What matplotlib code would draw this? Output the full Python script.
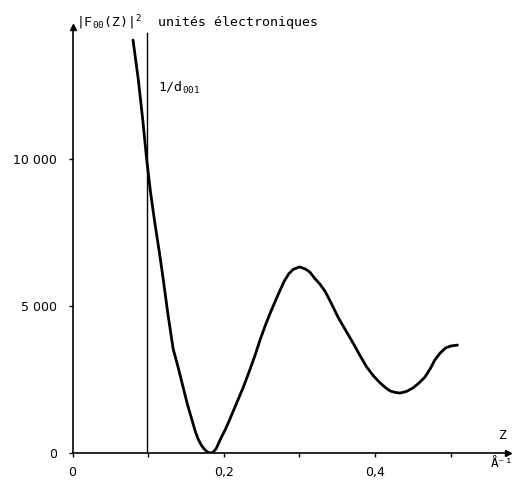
import matplotlib
matplotlib.use("Agg")
import matplotlib.pyplot as plt

z = [0.080, 0.087, 0.093, 0.098, 0.103, 0.109, 0.115, 0.120, 0.126, 0.133,
     0.140, 0.146, 0.152, 0.158, 0.162, 0.166, 0.170, 0.174, 0.178, 0.182,
     0.186, 0.190, 0.195, 0.202, 0.208, 0.217, 0.226, 0.234, 0.241, 0.248,
     0.255, 0.262, 0.272, 0.280, 0.286, 0.292, 0.300, 0.308, 0.314, 0.320,
     0.327, 0.334, 0.342, 0.351, 0.361, 0.371, 0.380, 0.389, 0.398, 0.407,
     0.414, 0.420, 0.427, 0.433, 0.441, 0.450, 0.458, 0.466, 0.473, 0.479,
     0.486, 0.493, 0.500, 0.509]
f2 = [14050, 12700, 11300, 10000, 8900, 7800, 6800, 5900, 4750, 3550,
      2880, 2260, 1650, 1120, 760, 480, 280, 140, 40, 0,
      30, 150, 440, 800, 1150, 1700, 2250, 2800, 3300, 3850,
      4350, 4800, 5400, 5850, 6100, 6250, 6330, 6260, 6150, 5950,
      5750, 5500, 5100, 4625, 4180, 3740, 3320, 2925, 2620, 2380,
      2220, 2110, 2060, 2041, 2090, 2211, 2380, 2585, 2870, 3163,
      3400, 3570, 3640, 3673]

x_ticks = [0, 0.1, 0.2, 0.3, 0.4, 0.5]
x_labels = ["0", "", "0,2", "", "0,4", ""]
y_ticks = [0, 5000, 10000]
y_labels = ["0", "5 000", "10 000"]
d001_inv = 0.098

fig = plt.figure(figsize=(5.18, 4.84), dpi=100)
ax = fig.add_axes([0.140, 0.064, 0.841, 0.880])

ax.plot(z, f2, color="black", linewidth=2.0, solid_capstyle="round",
        solid_joinstyle="round")
ax.axvline(d001_inv, ymax=0.986, color="black", linewidth=1.0)

ax.set_xlim(0, 0.576)
ax.set_ylim(0, 14490)
for s in ["top", "right"]:
    ax.spines[s].set_visible(False)
for s in ["left", "bottom"]:
    ax.spines[s].set_linewidth(1.2)

# flèches des axes
ax.plot(0, 1, marker="^", color="black", markersize=5, transform=ax.transAxes, clip_on=False)
ax.plot(1, 0, marker=">", color="black", markersize=5, transform=ax.transAxes, clip_on=False)

ax.set_xticks(x_ticks)
ax.set_xticklabels(x_labels)
ax.set_yticks(y_ticks)
ax.set_yticklabels(y_labels)
ax.tick_params(axis="x", length=3, width=1, pad=6, labelsize=9)
ax.tick_params(axis="y", length=3, width=1, pad=8, labelsize=9)

mono = "DejaVu Sans Mono"
fig.text(0.147, 0.952, r"$\mathtt{|F_{00}(Z)|^2}$  unités électroniques",
         family=mono, fontsize=9.5, va="center", ha="left")
fig.text(0.305, 0.818, r"1/d$\mathtt{_{001}}$", family=mono, fontsize=9.5,
         va="center", ha="left")
ax.text(0.989, 0.042, "Z", transform=ax.transAxes, family=mono, fontsize=9.5,
        ha="center", va="center")
ax.text(0.985, -0.025, "Å⁻¹", transform=ax.transAxes, family=mono,
        fontsize=9, ha="center", va="center")

plt.savefig("out.png", dpi=100)
plt.close()
